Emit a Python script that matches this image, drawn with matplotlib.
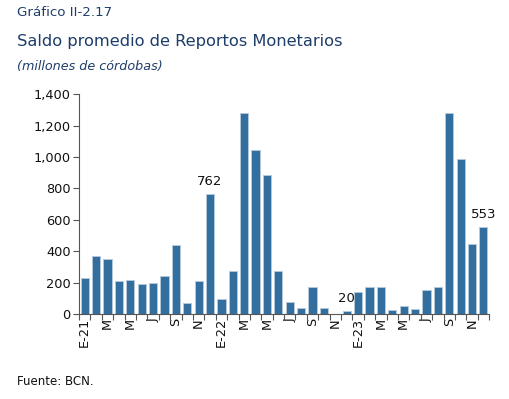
import matplotlib
matplotlib.use("Agg")
import matplotlib.pyplot as plt
import numpy as np

months = ["E-21", "F", "M", "A", "M", "J", "J", "A", "S", "O", "N", "D",
          "E-22", "F", "M", "A", "M", "J", "J", "A", "S", "O", "N", "D",
          "E-23", "F", "M", "A", "M", "J", "J", "A", "S", "O", "N", "D"]
values = [230, 368, 352, 208, 215, 193, 200, 240, 441, 70, 208, 762,
          93, 275, 1280, 1042, 885, 275, 75, 40, 175, 40, 0, 20,
          140, 172, 172, 25, 50, 33, 150, 172, 1280, 988, 445, 553]
labeled = {11: "762", 23: "20", 35: "553"}
yticks = [0, 200, 400, 600, 800, 1000, 1200, 1400]

fig = plt.figure(figsize=(5.10, 3.99), dpi=100)
ax = fig.add_axes([0.155, 0.213, 0.804, 0.551])

x = np.arange(len(values))
ax.bar(x, values, width=0.72, color="#336f9e", edgecolor="#b4c8dc", linewidth=0.7)

for i, t in labeled.items():
    ax.text(x[i], values[i] + 40, t, ha="center", va="bottom", fontsize=9.5, color="#111111")

ax.set_xlim(-0.5, len(values) - 0.5)
ax.set_ylim(0, 1400)
ax.set_yticks(yticks)
ax.set_yticklabels([f"{v:,}" for v in yticks], fontsize=9.3, color="#111111")

# minor ticks at boundaries, labels at every other bar center
ax.set_xticks(np.arange(-0.5, len(values), 1.0), minor=True)
ax.set_xticks(x[::2])
ax.set_xticklabels(months[::2], rotation=90, fontsize=9.3, color="#111111")
ax.tick_params(axis="x", which="major", length=0, pad=3)
ax.tick_params(axis="x", which="minor", length=4, color="#555555", width=0.8)
ax.tick_params(axis="y", length=4, color="#555555", width=0.8, pad=2)

for s in ["top", "right"]:
    ax.spines[s].set_visible(False)
for s in ["left", "bottom"]:
    ax.spines[s].set_color("#555555")
    ax.spines[s].set_linewidth(0.8)

fig.text(0.033, 0.985, "Gráfico II-2.17", fontsize=9.6, color="#1f3d6b", va="top")
fig.text(0.033, 0.915, "Saldo promedio de Reportos Monetarios", fontsize=11.7, color="#1f3d6b",
         va="top")
fig.text(0.033, 0.85, "(millones de córdobas)", fontsize=9.2, color="#1f3d6b", va="top", style="italic")
fig.text(0.033, 0.045, "Fuente: BCN.", fontsize=8.5, color="#111111", va="center")

fig.savefig("out.png", dpi=100)
